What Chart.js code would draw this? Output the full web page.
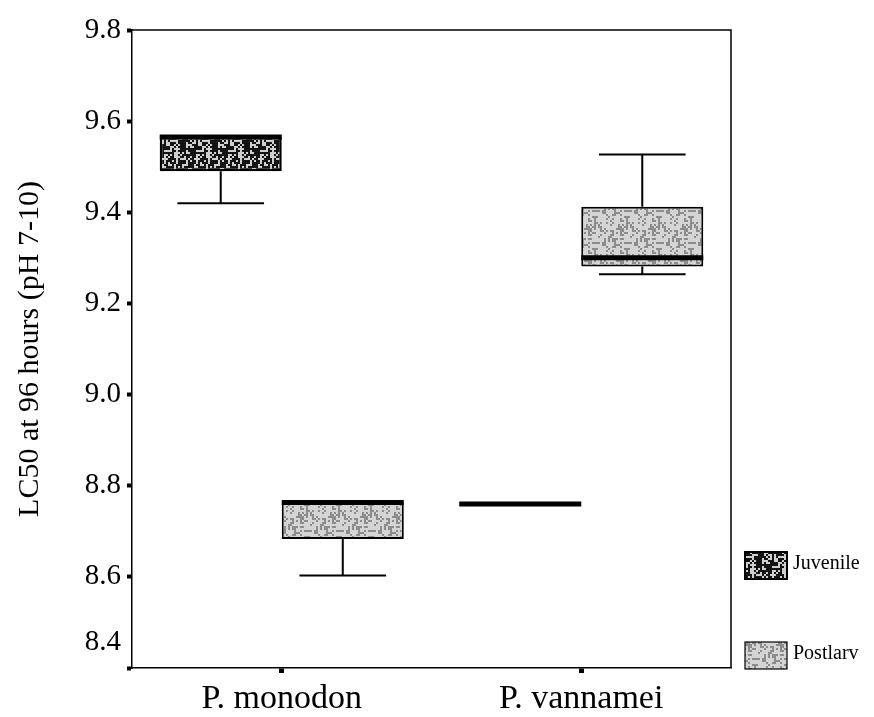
<!DOCTYPE html>
<html>
<head>
<meta charset="utf-8">
<script src="https://cdn.jsdelivr.net/npm/chart.js@4/dist/chart.umd.min.js"></script>
<style>
  html, body { margin: 0; padding: 0; background: #fff; }
  #wrap { width: 874px; height: 717px; position: relative; }
</style>
</head>
<body>
<div id="wrap"><canvas id="c"></canvas></div>
<script>
// Categories and groups
const species = ['P. monodon', 'P. vannamei'];
const stages = ['Juvenile', 'Postlarv'];
const yTicks = [8.4, 8.6, 8.8, 9.0, 9.2, 9.4, 9.6, 9.8];

// Five-number summaries per species: [min, q1, median, q3, max]
const juvenileStats = [
  [9.42, 9.49, 9.565, 9.565, 9.565],
  [8.76, 8.76, 8.76, 8.76, 8.76]
];
const postlarvStats = [
  [8.603, 8.683, 8.763, 8.763, 8.763],
  [9.264, 9.281, 9.30, 9.412, 9.527]
];

const SERIF = '"Liberation Serif", "DejaVu Serif", serif';

const canvas = document.getElementById('c');
const ctx = canvas.getContext('2d');

// Grainy fill texture built from a fixed hash so every render is identical
function speckle(base, fleck, density, salt) {
  const size = 32, cell = 2;
  const off = document.createElement('canvas');
  off.width = size; off.height = size;
  const g = off.getContext('2d');
  g.fillStyle = base;
  g.fillRect(0, 0, size, size);
  g.fillStyle = fleck;
  for (let y = 0; y < size; y += cell) {
    for (let x = 0; x < size; x += cell) {
      let h = (x * 374761393 + y * 668265263 + salt * 2246822519) >>> 0;
      h = ((h ^ (h >>> 13)) * 1274126177) >>> 0;
      h = (h ^ (h >>> 16)) >>> 0;
      if ((h % 1000) / 1000 < density) g.fillRect(x, y, cell, cell);
    }
  }
  return ctx.createPattern(off, 'repeat');
}

const juvenileFill = speckle('#141414', '#cfcfcf', 0.36, 7);
const postlarvFill = speckle('#d4d4d4', '#8c8c8c', 0.26, 3);

const statsByDataset = [juvenileStats, postlarvStats];

// Medians and whiskers drawn over the floating-bar boxes
const boxWhiskers = {
  id: 'boxWhiskers',
  afterDatasetsDraw(chart) {
    const c = chart.ctx;
    const ys = chart.scales.y;
    c.save();
    c.strokeStyle = '#000';
    statsByDataset.forEach((set, di) => {
      const meta = chart.getDatasetMeta(di);
      meta.data.forEach((bar, i) => {
        const [mn, q1, med, q3, mx] = set[i];
        const x = bar.x, w = bar.width;
        const cap = w * 0.71;
        c.lineWidth = 2;
        c.beginPath();
        if (mn < q1) {
          c.moveTo(x, ys.getPixelForValue(q1));
          c.lineTo(x, ys.getPixelForValue(mn));
          c.moveTo(x - cap / 2, ys.getPixelForValue(mn));
          c.lineTo(x + cap / 2, ys.getPixelForValue(mn));
        }
        if (mx > q3) {
          c.moveTo(x, ys.getPixelForValue(q3));
          c.lineTo(x, ys.getPixelForValue(mx));
          c.moveTo(x - cap / 2, ys.getPixelForValue(mx));
          c.lineTo(x + cap / 2, ys.getPixelForValue(mx));
        }
        c.stroke();
        c.lineWidth = 5;
        c.beginPath();
        const my = ys.getPixelForValue(med);
        c.moveTo(x - w / 2, my);
        c.lineTo(x + w / 2, my);
        c.stroke();
      });
    });
    c.restore();
  }
};

// Top and right sides of the plot frame
const frame = {
  id: 'frame',
  afterDraw(chart) {
    const a = chart.chartArea, c = chart.ctx;
    c.save();
    c.strokeStyle = '#000';
    c.lineWidth = 1.5;
    c.beginPath();
    c.moveTo(a.left, a.top);
    c.lineTo(a.right, a.top);
    c.lineTo(a.right, a.bottom);
    c.stroke();
    c.restore();
  }
};

// Legend with swatches stacked low on the right
const sideLegend = {
  id: 'sideLegend',
  afterDraw(chart) {
    const a = chart.chartArea, c = chart.ctx;
    const rows = [a.bottom - 116, a.bottom - 26];
    c.save();
    chart.data.datasets.forEach((ds, i) => {
      const x = a.right + 14, y = rows[i];
      c.fillStyle = ds.backgroundColor;
      c.fillRect(x, y, 42, 27);
      c.strokeStyle = '#000';
      c.lineWidth = i === 0 ? 2 : 1.2;
      c.strokeRect(x, y, 42, 27);
      c.fillStyle = '#000';
      c.font = '20px ' + SERIF;
      c.textAlign = 'left';
      c.textBaseline = 'middle';
      c.fillText(ds.label, x + 48, y + 12);
    });
    c.restore();
  }
};

new Chart(canvas, {
  type: 'bar',
  data: {
    labels: species,
    datasets: [
      {
        label: stages[0],
        data: juvenileStats.map(s => [s[1], s[3]]),
        backgroundColor: juvenileFill,
        borderColor: '#000',
        borderWidth: 2.5,
        borderSkipped: false,
        barPercentage: 1,
        categoryPercentage: 0.815
      },
      {
        label: stages[1],
        data: postlarvStats.map(s => [s[1], s[3]]),
        backgroundColor: postlarvFill,
        borderColor: '#000',
        borderWidth: 2,
        borderSkipped: false,
        barPercentage: 1,
        categoryPercentage: 0.815
      }
    ]
  },
  options: {
    responsive: true,
    maintainAspectRatio: false,
    animation: false,
    layout: { padding: { top: 30, right: 143, left: 0, bottom: 0 } },
    plugins: {
      legend: { display: false },
      tooltip: { enabled: false }
    },
    scales: {
      x: {
        grid: { display: true, drawOnChartArea: false, offset: false, tickLength: 5, tickWidth: 5, tickColor: '#000' },
        border: { color: '#000', width: 1.5 },
        ticks: { color: '#000', font: { family: SERIF, size: 34 }, padding: 6, maxRotation: 0, autoSkip: false },
        afterFit(scale) { scale.height = 49; }
      },
      y: {
        min: 8.4,
        max: 9.8,
        afterBuildTicks(scale) { scale.ticks = yTicks.map(v => ({ value: v })); },
        grid: { display: true, drawOnChartArea: false, tickLength: 5, tickWidth: 4, tickColor: '#000' },
        border: { color: '#000', width: 1.5 },
        ticks: {
          color: '#000',
          padding: 6,
          autoSkip: false,
          font: { family: SERIF, size: 29, lineHeight: 1.75 },
          callback(value) {
            const t = Number(value).toFixed(1);
            // the bottom label sits raised above its tick
            return t === '8.4' ? [t, ''] : t;
          }
        },
        title: {
          display: true,
          text: 'LC50 at 96 hours (pH 7-10)',
          color: '#000',
          font: { family: SERIF, size: 30 },
          padding: { top: 12, bottom: 0 }
        },
        afterFit(scale) {
          scale.width = 132;
          scale.paddingTop = 0;
          scale.paddingBottom = 0;
        }
      }
    }
  },
  plugins: [boxWhiskers, frame, sideLegend]
});
</script>
</body>
</html>
